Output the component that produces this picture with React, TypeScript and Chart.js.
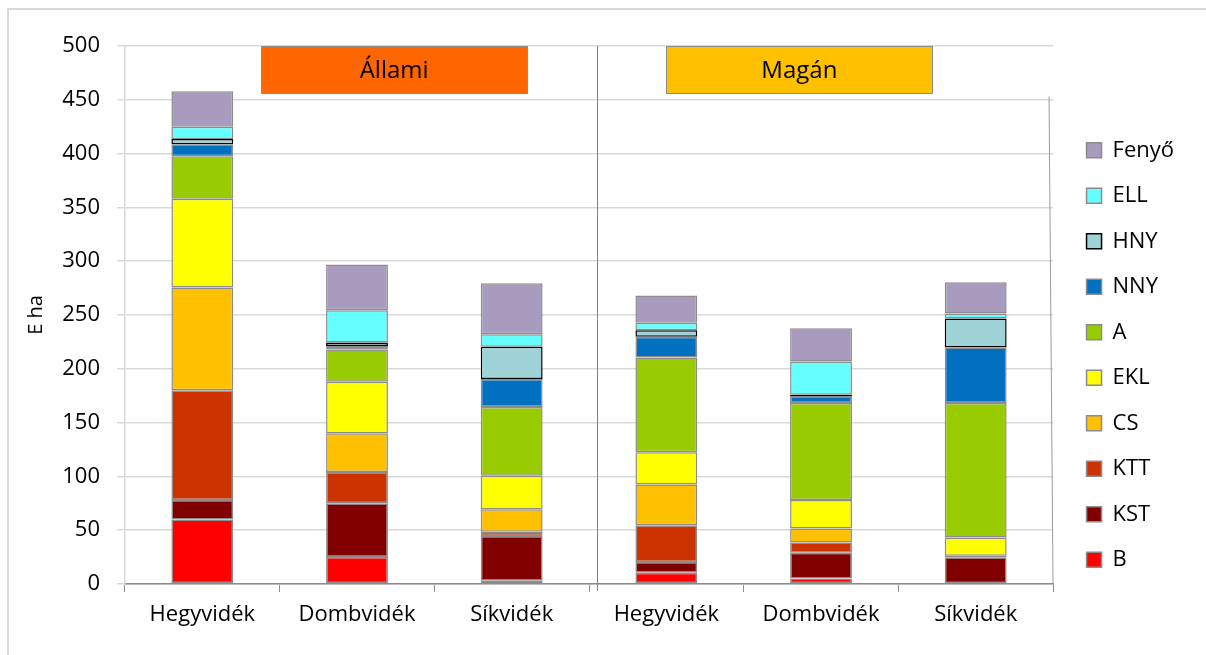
import React, { useEffect, useRef } from 'react';
import { Chart, registerables } from 'chart.js';

Chart.register(...registerables);

const FONT = "'Open Sans', 'Liberation Sans', sans-serif";

const categories = ['Hegyvidék', 'Dombvidék', 'Síkvidék', 'Hegyvidék', 'Dombvidék', 'Síkvidék'];
const groupLabels = ['Állami', 'Magán'];
const seriesNames = ['B', 'KST', 'KTT', 'CS', 'EKL', 'A', 'NNY', 'HNY', 'ELL', 'Fenyő'];

const valuesB = [60, 25, 3, 10.5, 5, 0];
const valuesKST = [18, 50, 41.5, 10, 24, 24.8];
const valuesKTT = [102, 29, 4, 34, 9.5, 0.4];
const valuesCS = [95.5, 36, 21, 38, 13, 1.1];
const valuesEKL = [82.5, 48, 31, 30, 26.6, 17];
const valuesA = [39.5, 30, 64, 88, 90, 125];
const valuesNNY = [11, 3.3, 26, 19.2, 6.7, 51.5];
const valuesHNY = [5, 3.1, 30, 6.2, 1, 27];
const valuesELL = [11.5, 30, 11.5, 6.8, 31, 4.7];
const valuesFenyo = [33, 42.5, 47.5, 25.5, 31, 29];

const seriesValues = [valuesB, valuesKST, valuesKTT, valuesCS, valuesEKL, valuesA, valuesNNY, valuesHNY, valuesELL, valuesFenyo];
const seriesColors = ['#FF0000', '#800000', '#CC3300', '#FFC000', '#FFFF00', '#99CC00', '#0070C0', '#9FD3D8', '#66FFFF', '#A99BBE'];

const yMin = 0;
const yMax = 500;
const yStep = 50;

const overlayPlugin = {
  id: 'overlay',
  afterLayout(chart: any) {
    const lg = chart.legend;
    if (lg) {
      lg.left += 10;
      lg.right += 10;
    }
  },
  afterDatasetsDraw(chart: any) {
    const { ctx, chartArea, scales } = chart;
    const x = scales.x;
    const y = scales.y;
    ctx.save();
    // group divider
    const dx = Math.round(x.getPixelForValue(2.55)) + 0.5;
    ctx.strokeStyle = '#808080';
    ctx.lineWidth = 1;
    ctx.beginPath();
    ctx.moveTo(dx, chartArea.top);
    ctx.lineTo(dx, chartArea.bottom + 7);
    ctx.stroke();
    // right frame line
    ctx.strokeStyle = '#9a9a9a';
    ctx.beginPath();
    ctx.moveTo(x.getPixelForValue(5.5) - 4, y.getPixelForValue(453));
    ctx.lineTo(x.getPixelForValue(5.5), chartArea.bottom);
    ctx.stroke();
    // group header boxes
    const boxes = [
      { from: 0.38, to: 2.1, fill: '#FF6600', text: groupLabels[0] },
      { from: 3.0, to: 4.72, fill: '#FFC000', text: groupLabels[1] },
    ];
    const top = y.getPixelForValue(500);
    const bottom = y.getPixelForValue(456);
    for (const b of boxes) {
      const l = x.getPixelForValue(b.from);
      const r = x.getPixelForValue(b.to);
      ctx.fillStyle = b.fill;
      ctx.fillRect(l, top, r - l, bottom - top);
      ctx.strokeStyle = '#8c8c8c';
      ctx.lineWidth = 1;
      ctx.strokeRect(Math.round(l) + 0.5, Math.round(top) + 0.5, Math.round(r - l), Math.round(bottom - top));
      ctx.fillStyle = '#000';
      ctx.font = `24px ${FONT}`;
      ctx.textAlign = 'center';
      ctx.textBaseline = 'middle';
      ctx.fillText(b.text, (l + r) / 2, (top + bottom) / 2 + 1);
    }
    ctx.restore();
  },
};

export default function App() {
  const ref = useRef<HTMLCanvasElement | null>(null);

  useEffect(() => {
    if (!ref.current) return;
    Chart.defaults.font.family = FONT;
    const datasets = seriesNames.map((name, i) => ({
      label: name,
      data: seriesValues[i],
      backgroundColor: seriesColors[i],
      borderColor: name === 'HNY' ? '#000000' : '#8c8c8c',
      borderWidth: 1.5,
      borderSkipped: false,
      barPercentage: 0.4,
      categoryPercentage: 1,
    }));
    const chart = new Chart(ref.current, {
      type: 'bar',
      data: { labels: categories, datasets },
      plugins: [overlayPlugin],
      options: {
        responsive: false,
        animation: false,
        layout: { padding: { top: 36, left: 0, right: 32, bottom: 0 } },
        plugins: {
          tooltip: { enabled: false },
          legend: {
            position: 'right',
            reverse: true,
            title: { display: true, text: ' ', font: { size: 1 }, padding: { top: 8, bottom: 0 } },
            labels: {
              boxWidth: 15,
              boxHeight: 15,
              padding: 23.5,
              color: '#000',
              font: { size: 22, family: FONT },
            },
          },
        },
        scales: {
          x: {
            stacked: true,
            z: 1,
            grid: {
              display: true,
              drawOnChartArea: false,
              drawTicks: true,
              tickLength: 8,
              color: '#8c8c8c',
              offset: true,
            },
            border: { color: '#8c8c8c', width: 1.5 },
            ticks: {
              color: '#000',
              font: { size: 22, family: FONT },
              padding: 10,
              maxRotation: 0,
              autoSkip: false,
            },
            afterFit: (s: any) => {
              s.height = 71;
            },
          },
          y: {
            stacked: true,
            min: yMin,
            max: yMax,
            ticks: {
              stepSize: yStep,
              color: '#000',
              font: { size: 22, family: FONT },
              padding: 17,
            },
            grid: { color: '#d9d9d9', lineWidth: 1.5, tickLength: 8 },
            border: { color: '#d9d9d9', width: 1.5 },
            title: {
              display: true,
              text: 'E ha',
              color: '#000',
              font: { size: 20, family: FONT },
              padding: { top: 15, bottom: 0 },
            },
            afterFit: (s: any) => {
              s.width = 116;
            },
          },
        },
      } as any,
    });
    return () => chart.destroy();
  }, []);

  return (
    <div
      style={{
        position: 'absolute',
        left: 7,
        top: 8,
        width: 1199,
        height: 647,
        boxSizing: 'border-box',
        borderTop: '2px solid #d9d9d9',
        borderLeft: '2px solid #d9d9d9',
        background: '#fff',
      }}
    >
      <canvas ref={ref} width={1197} height={645} style={{ display: 'block' }} />
    </div>
  );
}
